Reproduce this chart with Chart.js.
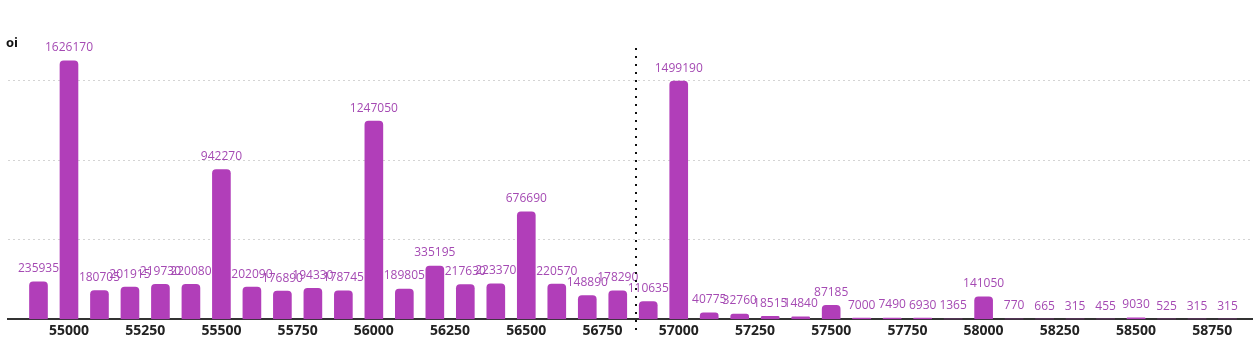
<!DOCTYPE html>
<html>
<head>
<meta charset="utf-8">
<script src="https://cdn.jsdelivr.net/npm/chart.js@4/dist/chart.umd.min.js"></script>
<style>
  html, body { margin: 0; padding: 0; background: #fff; overflow: hidden; }
  #wrap { width: 1258px; height: 338px; position: relative; }
</style>
</head>
<body>
<div id="wrap"><canvas id="oiChart"></canvas></div>
<script>
// Strike prices and open interest per strike
const strikes = [54900, 55000, 55100, 55200, 55300, 55400, 55500, 55600, 55700, 55800,
                 55900, 56000, 56100, 56200, 56300, 56400, 56500, 56600, 56700, 56800,
                 56900, 57000, 57100, 57200, 57300, 57400, 57500, 57600, 57700, 57800,
                 57900, 58000, 58100, 58200, 58300, 58400, 58500, 58600, 58700, 58800];
const openInterest = [235935, 1626170, 180705, 201915, 219730, 220080, 942270, 202090, 176890, 194330,
                      178745, 1247050, 189805, 335195, 217630, 223370, 676690, 220570, 148890, 178290,
                      110635, 1499190, 40775, 32760, 18515, 14840, 87185, 7000, 7490, 6930,
                      1365, 141050, 770, 665, 315, 455, 9030, 525, 315, 315];
// Labelled strike ticks and horizontal guide levels
const strikeTicks = [55000, 55250, 55500, 55750, 56000, 56250, 56500, 56750,
                     57000, 57250, 57500, 57750, 58000, 58250, 58500, 58750];
const oiLevels = [500000, 1000000, 1500000];
// Current underlying level marker
const spotPrice = 56861;
const strikeMin = 54800;
const strikeMax = 58900;

const barColor = '#b13eb9';
const labelColor = '#a54ab3';

const valueLabels = {
  id: 'valueLabels',
  afterDatasetsDraw(chart) {
    const ctx = chart.ctx;
    const meta = chart.getDatasetMeta(0);
    ctx.save();
    ctx.font = '400 12px "Open Sans", sans-serif';
    ctx.fillStyle = labelColor;
    ctx.textAlign = 'center';
    ctx.textBaseline = 'middle';
    meta.data.forEach((bar, i) => {
      ctx.fillText(String(openInterest[i]), bar.x, bar.y - 13);
    });
    ctx.restore();
  }
};

const spotLine = {
  id: 'spotLine',
  afterDatasetsDraw(chart) {
    const ctx = chart.ctx;
    const x = Math.round(chart.scales.x.getPixelForValue(spotPrice));
    const area = chart.chartArea;
    ctx.save();
    ctx.strokeStyle = '#111';
    ctx.lineWidth = 2;
    ctx.setLineDash([2, 6]);
    ctx.beginPath();
    ctx.moveTo(x, area.top);
    ctx.lineTo(x, area.bottom + 13);
    ctx.stroke();
    ctx.restore();
  }
};

const axisTitle = {
  id: 'axisTitle',
  afterDraw(chart) {
    const ctx = chart.ctx;
    ctx.save();
    ctx.font = '700 13px "Open Sans", sans-serif';
    ctx.fillStyle = '#111';
    ctx.textAlign = 'left';
    ctx.textBaseline = 'middle';
    ctx.fillText('oi', 6, 43);
    ctx.restore();
  }
};

new Chart(document.getElementById('oiChart'), {
  type: 'bar',
  data: {
    datasets: [{
      data: strikes.map((s, i) => ({ x: s, y: openInterest[i] })),
      backgroundColor: barColor,
      borderRadius: 4,
      barThickness: 18
    }]
  },
  options: {
    responsive: true,
    maintainAspectRatio: false,
    animation: false,
    layout: { padding: { left: 8, top: 48, right: 0, bottom: -4 } },
    plugins: {
      legend: { display: false },
      tooltip: { enabled: false }
    },
    scales: {
      x: {
        type: 'linear',
        min: strikeMin,
        max: strikeMax,
        offset: false,
        afterBuildTicks(scale) {
          scale.ticks = strikeTicks.map(v => ({ value: v }));
        },
        grid: { display: false, drawTicks: false, offset: false },
        border: { display: true, color: '#333', width: 2 },
        ticks: {
          padding: 3,
          color: '#222',
          font: { family: '"Open Sans", sans-serif', size: 14, weight: '700' },
          maxRotation: 0,
          autoSkip: false,
          callback: v => String(v)
        }
      },
      y: {
        min: 0,
        max: Math.max(...openInterest) * 1.05,
        afterBuildTicks(scale) {
          scale.ticks = oiLevels.map(v => ({ value: v }));
        },
        ticks: { display: false },
        border: { display: false, dash: [2, 3] },
        grid: { color: '#d4d4d4', lineWidth: 1, drawTicks: false }
      }
    }
  },
  plugins: [valueLabels, spotLine, axisTitle]
});
</script>
</body>
</html>
